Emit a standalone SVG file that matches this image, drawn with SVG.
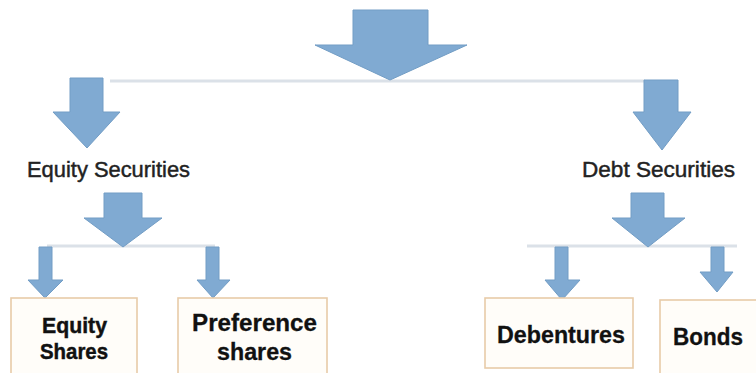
<svg xmlns="http://www.w3.org/2000/svg" width="756" height="373" viewBox="0 0 756 373">
  <style>
    .line { stroke: #dbe1e8; stroke-width: 3; fill: none; }
    .arrow { fill: #80aad2; stroke: #729dc5; stroke-width: 1; stroke-linejoin: miter; }
    .box { fill: #fffdf9; stroke: #e8cba8; stroke-width: 1.6; }
    .cat { font-family: "Liberation Sans", Arial, sans-serif; font-size: 22px; fill: #222; stroke: #222; stroke-width: 0.45; }
    .leaf { font-family: "Liberation Sans", Arial, sans-serif; font-size: 24px; font-weight: bold; fill: #111; stroke: #111; stroke-width: 0.3; text-anchor: middle; }
    .tight { font-size: 22px; stroke-width: 0.45; }
  </style>
  <rect width="756" height="373" fill="#ffffff"/>
  <g id="connectors">
    <line class="line" x1="110" y1="81" x2="645" y2="81"/>
    <line class="line" x1="47" y1="246" x2="215" y2="246"/>
    <line class="line" x1="527" y1="246" x2="737" y2="246"/>
    <polygon class="arrow" points="353,10 428,10 428,45 467,45 390,80 315,45 353,45"/>
    <polygon class="arrow" points="70,78 103,78 103,112 120,112 87,148 53,112 70,112"/>
    <polygon class="arrow" points="644,80 678,80 678,112 691,112 662,150 633,112 644,112"/>
    <polygon class="arrow" points="104,193 142,193 142,218 162,218 123,247 84,218 104,218"/>
    <polygon class="arrow" points="631,193 664,193 664,218 685,218 648,247 612,218 631,218"/>
    <polygon class="arrow" points="39,247 52,247 52,280 63,280 45,298 28,280 39,280"/>
    <polygon class="arrow" points="206,247 219,247 219,280 230,280 213,298 197,280 206,280"/>
    <polygon class="arrow" points="555,247 568,247 568,280 580,280 562,300 545,280 555,280"/>
    <polygon class="arrow" points="711,247 724,247 724,272 733,272 717,292 700,272 711,272"/>
  </g>
  <g id="equity-securities">
    <text class="cat" x="27" y="177" textLength="163" lengthAdjust="spacingAndGlyphs">Equity Securities</text>
  </g>
  <g id="debt-securities">
    <text class="cat" x="582" y="177" textLength="153" lengthAdjust="spacingAndGlyphs">Debt Securities</text>
  </g>
  <g id="equity-shares">
    <rect class="box" x="11" y="298" width="126" height="80"/>
    <text class="leaf tight" x="74.5" y="333" textLength="65" lengthAdjust="spacingAndGlyphs">Equity</text>
    <text class="leaf tight" x="74" y="359" textLength="68" lengthAdjust="spacingAndGlyphs">Shares</text>
  </g>
  <g id="preference-shares">
    <rect class="box" x="178" y="298" width="149" height="80"/>
    <text class="leaf" x="254.5" y="331" textLength="125" lengthAdjust="spacingAndGlyphs">Preference</text>
    <text class="leaf" x="254.5" y="360" textLength="75" lengthAdjust="spacingAndGlyphs">shares</text>
  </g>
  <g id="debentures">
    <rect class="box" x="485" y="298" width="148" height="70"/>
    <text class="leaf" x="561" y="343" textLength="128" lengthAdjust="spacingAndGlyphs">Debentures</text>
  </g>
  <g id="bonds">
    <rect class="box" x="660" y="300" width="110" height="80"/>
    <text class="leaf" x="708" y="345" textLength="70" lengthAdjust="spacingAndGlyphs">Bonds</text>
  </g>
</svg>
